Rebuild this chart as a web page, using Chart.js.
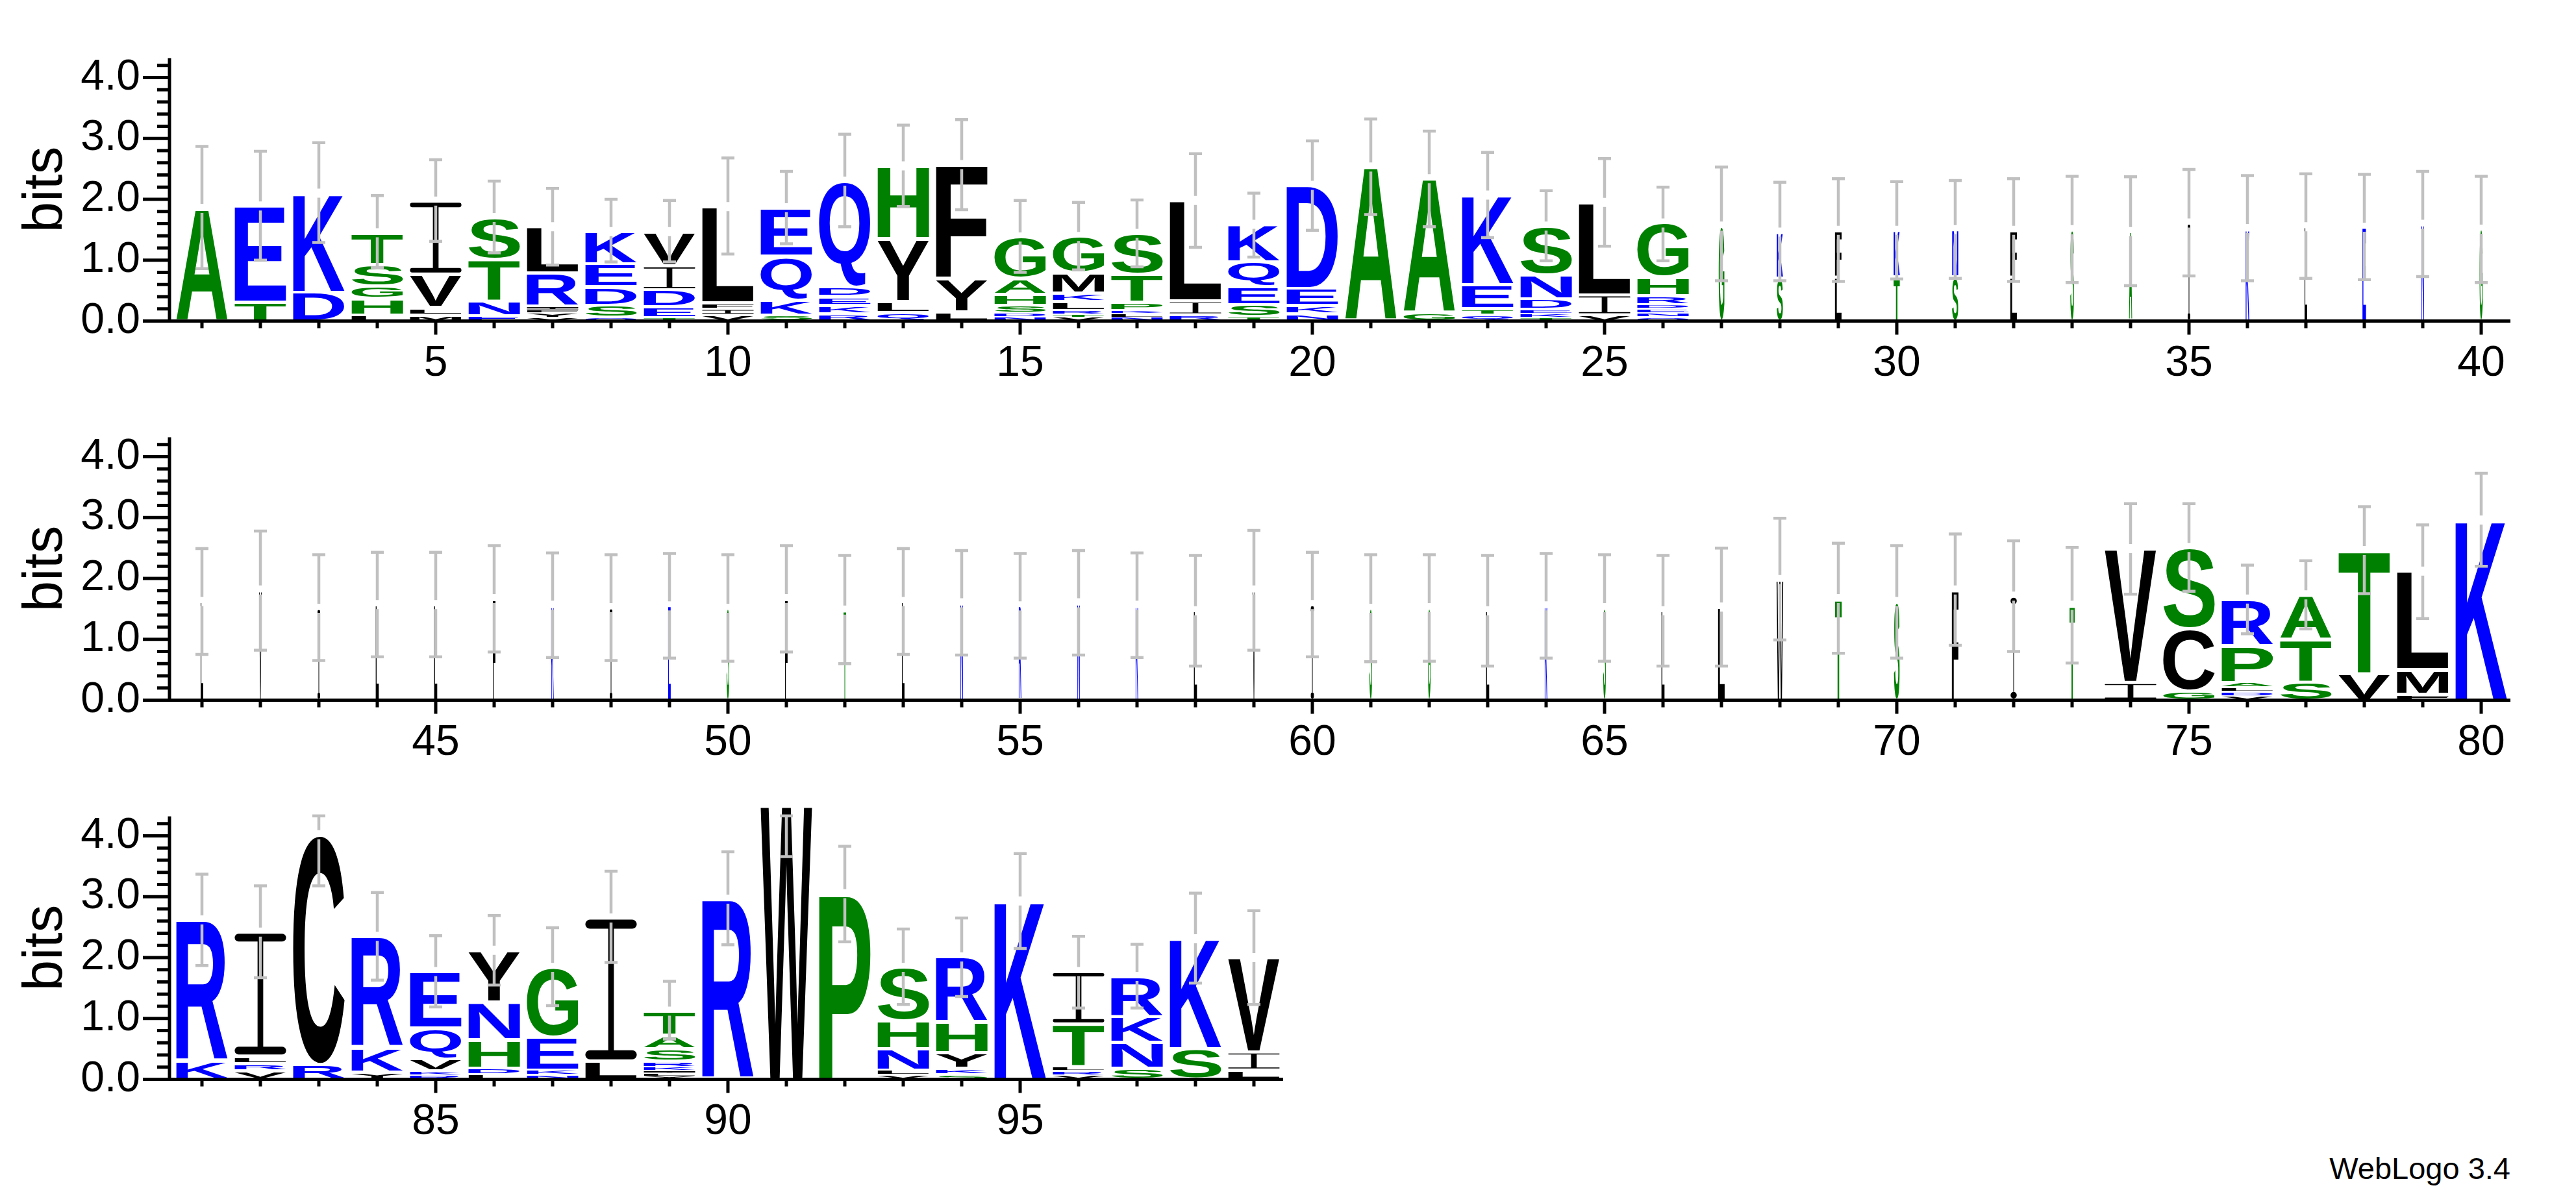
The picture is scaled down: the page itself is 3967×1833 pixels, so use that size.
<!DOCTYPE html>
<html>
<head>
<meta charset="utf-8">
<title>WebLogo</title>
<script src="https://cdn.jsdelivr.net/npm/chart.js@4.4.1/dist/chart.umd.min.js"></script>
<style>
  body { margin: 0; background: #fff; overflow: hidden; }
  #page { position: relative; width: 3967px; height: 1833px; background: #fff; }
  canvas { position: absolute; left: 0; }
  #credit { position: absolute; right: 101px; top: 1776px; font: 47px "Liberation Sans", Arial, sans-serif; line-height: 1; color: #000; }
</style>
</head>
<body>
<div id="page">
  <canvas id="row1" width="3967" height="584" style="top:0;width:3967px;height:584px"></canvas>
  <canvas id="row2" width="3967" height="584" style="top:584px;width:3967px;height:584px"></canvas>
  <canvas id="row3" width="3967" height="584" style="top:1168px;width:3967px;height:584px"></canvas>
  <div id="credit">WebLogo 3.4</div>
</div>
<script>
// residues at each position, listed bottom to top of the stack
const letters = [
  'A', 'TE', 'DK', 'LHGST', 'MLVI', 'ENTS', 'VYFIRL', 'QSDEK', 'TEDIV', 'VIFL',
  'SKQE', 'RKEDQ', 'QLYH', 'LYF', 'NDSHAG', 'VTRLKMG', 'NLKPTS', 'RIL', 'TSEQK', 'NKED',
  'A', 'GA', 'QTEK', 'TKEDNS', 'VIL', 'QNEDRHG', 'G', 'SK', 'LF', 'TK',
  'SN', 'LF', 'S', 'A', 'I', 'K', 'L', 'E', 'N', 'G',
  'L', 'V', 'I', 'L', 'L', 'F', 'K', 'I', 'E', 'S',
  'F', 'T', 'L', 'N', 'R', 'N', 'K', 'L', 'V', 'I',
  'S', 'G', 'L', 'K', 'S', 'L', 'L', 'W', 'T', 'S',
  'F', 'I', 'T', 'IV', 'GCS', 'VDLAPR', 'STA', 'VT', 'FML', 'K',
  'KR', 'VRLI', 'RC', 'YKR', 'RKVQE', 'LDHNY', 'NKEG', 'LI', 'YLIKRSAT', 'R',
  'W', 'P', 'VLNHS', 'SKYHR', 'K', 'VRLTI', 'SNKR', 'SK', 'LIV'
];

// bits for each residue, same order as letters
const heights = [
  [1.85], [0.31, 1.58], [0.47, 1.63], [0.1, 0.27, 0.2, 0.36, 0.52], [0.1, 0.12, 0.55, 1.2],
  [0.08, 0.25, 0.68, 0.69], [0.05, 0.08, 0.05, 0.06, 0.55, 0.76], [0.06, 0.2, 0.3, 0.38, 0.53],
  [0.05, 0.18, 0.28, 0.4, 0.56], [0.1, 0.1, 0.1, 1.58],
  [0.1, 0.25, 0.72, 0.79], [0.12, 0.14, 0.14, 0.16, 1.74], [0.14, 0.18, 1.03, 1.2], [0.15, 0.55, 1.87],
  [0.06, 0.07, 0.13, 0.18, 0.26, 0.68], [0.06, 0.05, 0.06, 0.15, 0.14, 0.33, 0.6],
  [0.06, 0.06, 0.05, 0.14, 0.46, 0.67], [0.1, 0.23, 1.65], [0.07, 0.2, 0.3, 0.4, 0.62], [0.12, 0.13, 0.28, 1.7],
  [2.53], [0.13, 2.21], [0.1, 0.1, 0.4, 1.47], [0.05, 0.07, 0.07, 0.17, 0.4, 0.8], [0.1, 0.33, 1.52],
  [0.06, 0.07, 0.07, 0.07, 0.15, 0.3, 0.89], [1.56], [0.7, 0.76], [0.72, 0.77], [0.72, 0.77],
  [0.72, 0.78], [0.72, 0.77], [1.5], [1.47], [1.61], [1.52], [1.55], [1.54], [1.59], [1.51],
  [1.62], [1.81], [1.51], [1.57], [1.57], [1.67], [1.56], [1.52], [1.55], [1.51],
  [1.67], [1.48], [1.62], [1.6], [1.55], [1.6], [1.56], [1.47], [1.81], [1.57],
  [1.51], [1.52], [1.47], [1.55], [1.52], [1.47], [1.53], [1.98], [1.67], [1.62],
  [1.81], [1.71], [1.56], [0.29, 2.2], [0.15, 1.03, 1.33], [0.07, 0.07, 0.07, 0.08, 0.6, 0.77],
  [0.3, 0.7, 0.73], [0.43, 2.03], [0.1, 0.4, 1.62], [2.96],
  [0.3, 2.32], [0.14, 0.12, 0.12, 2.04], [0.24, 3.78], [0.12, 0.4, 1.83], [0.07, 0.07, 0.2, 0.5, 0.93],
  [0.08, 0.1, 0.47, 0.62, 0.85], [0.07, 0.08, 0.54, 1.15], [0.3, 2.35],
  [0.05, 0.05, 0.04, 0.06, 0.1, 0.2, 0.22, 0.4], [2.96],
  [4.5], [3.05], [0.07, 0.08, 0.35, 0.46, 0.88], [0.08, 0.1, 0.26, 0.5, 1.07], [2.93],
  [0.07, 0.07, 0.07, 0.7, 0.86], [0.18, 0.43, 0.42, 0.66], [0.5, 1.81], [0.15, 0.3, 1.55]
];

// error bar ends, in bits
const errLow = [
  0.86, 1.0, 1.29, 0.88, 1.31, 1.12, 0.92, 0.97, 0.97, 1.1,
  1.27, 1.55, 1.88, 1.83, 0.8, 0.84, 0.89, 1.21, 1.05, 1.49,
  1.75, 1.55, 1.37, 0.99, 1.23, 0.99, 0.66, 0.66, 0.65, 0.69,
  0.7, 0.65, 0.63, 0.58, 0.74, 0.66, 0.7, 0.68, 0.73, 0.63,
  0.75, 0.82, 0.65, 0.71, 0.71, 0.79, 0.7, 0.65, 0.69, 0.64,
  0.79, 0.6, 0.75, 0.74, 0.69, 0.74, 0.7, 0.56, 0.82, 0.71,
  0.63, 0.64, 0.56, 0.69, 0.64, 0.56, 0.56, 0.99, 0.77, 0.69,
  0.9, 0.8, 0.61, 1.74, 1.79, 1.09, 1.17, 1.75, 1.34, 2.2,
  1.87, 1.67, 3.18, 1.63, 1.19, 1.55, 1.21, 1.92, 0.66, 2.21,
  3.66, 2.26, 1.23, 1.36, 2.15, 1.17, 1.17, 1.58, 1.23
];
const errHigh = [
  2.87, 2.79, 2.93, 2.06, 2.65, 2.3, 2.18, 2.0, 1.98, 2.68,
  2.46, 3.07, 3.22, 3.31, 1.98, 1.95, 1.99, 2.75, 2.1, 2.96,
  3.32, 3.12, 2.77, 2.14, 2.67, 2.2, 2.53, 2.28, 2.34, 2.29,
  2.31, 2.34, 2.38, 2.37, 2.49, 2.39, 2.42, 2.41, 2.46, 2.38,
  2.49, 2.78, 2.39, 2.43, 2.43, 2.54, 2.42, 2.39, 2.41, 2.39,
  2.54, 2.38, 2.49, 2.46, 2.41, 2.46, 2.42, 2.38, 2.79, 2.43,
  2.39, 2.39, 2.38, 2.41, 2.39, 2.38, 2.5, 2.99, 2.58, 2.54,
  2.73, 2.62, 2.51, 3.23, 3.23, 2.22, 2.29, 3.18, 2.88, 3.73,
  3.37, 3.18, 4.33, 3.07, 2.36, 2.69, 2.49, 3.42, 1.61, 3.74,
  4.33, 3.83, 2.47, 2.65, 3.71, 2.35, 2.22, 3.06, 2.77
];

// fraction of non-gap sequences, sets the stack width
const occupancy = [
  1, 1, 1, 1, 1, 1, 1, 1, 1, 1,
  1, 1, 1, 1, 1, 1, 1, 1, 1, 1,
  1, 1, 1, 1, 1, 1, 0.11, 0.12, 0.13, 0.12,
  0.12, 0.13, 0.07, 0.06, 0.05, 0.07, 0.05, 0.07, 0.05, 0.06,
  0.05, 0.05, 0.05, 0.06, 0.06, 0.05, 0.05, 0.05, 0.05, 0.05,
  0.05, 0.05, 0.05, 0.05, 0.05, 0.05, 0.05, 0.06, 0.05, 0.06,
  0.05, 0.05, 0.06, 0.05, 0.05, 0.06, 0.13, 0.13, 0.13, 0.11,
  0.13, 0.12, 0.1, 1, 1, 1, 1, 1, 1, 1,
  1, 1, 1, 1, 1, 1, 1, 1, 1, 1,
  1, 1, 1, 1, 1, 1, 1, 1, 1
];

const xTickLabels = ['5', '10', '15', '20', '25', '30', '35', '40', '45', '50',
  '55', '60', '65', '70', '75', '80', '85', '90', '95'];
const yTickValues = [0, 1, 2, 3, 4];
const yTickLabels = ['0.0', '1.0', '2.0', '3.0', '4.0'];
const maxBits = 4.32;

const rows = [[0, 40], [40, 80], [80, 99]];

const FONT = '"Liberation Sans", Arial, Helvetica, sans-serif';
const hydrophilic = 'RKDENQ';
const neutral = 'SGHTAP';
function colourOf(ch) {
  if (hydrophilic.includes(ch)) return '#0000ff';
  if (neutral.includes(ch)) return '#008000';
  return '#000000';
}

const glyphCache = {};
function glyphBox(ctx, ch) {
  if (!glyphCache[ch]) {
    ctx.save();
    ctx.font = 'bold 200px ' + FONT;
    const m = ctx.measureText(ch);
    glyphCache[ch] = {
      l: m.actualBoundingBoxLeft, r: m.actualBoundingBoxRight,
      a: m.actualBoundingBoxAscent, d: m.actualBoundingBoxDescent
    };
    ctx.restore();
  }
  return glyphCache[ch];
}

// stretch one letter so its ink fills the box
function drawGlyph(ctx, ch, cx, top, bottom, w, colour) {
  const gap = Math.min(2.5, (bottom - top) * 0.2);
  const t = top + gap;
  const h = bottom - top - 2 * gap;
  if (h <= 0.3 || w <= 0) return;
  ctx.save();
  ctx.fillStyle = colour;
  if (ch === 'I') {
    // the logo font draws I with bars top and bottom
    const bar = Math.max(1, h * 0.065);
    const stem = Math.max(1, w * 0.11);
    const x0 = cx - w / 2;
    ctx.beginPath();
    ctx.roundRect(x0, t, w, bar, bar / 2);
    ctx.roundRect(x0, t + h - bar, w, bar, bar / 2);
    ctx.rect(cx - stem / 2, t, stem, h);
    ctx.fill();
    ctx.restore();
    return;
  }
  const g = glyphBox(ctx, ch);
  ctx.translate(cx - w / 2, t);
  ctx.scale(w / (g.l + g.r), h / (g.a + g.d));
  ctx.font = 'bold 200px ' + FONT;
  ctx.textAlign = 'left';
  ctx.textBaseline = 'alphabetic';
  ctx.fillText(ch, g.l, g.a);
  ctx.restore();
}

const logoPlugin = {
  id: 'logo',
  afterDatasetsDraw(chart, args, opts) {
    const { ctx } = chart;
    const { x, y } = chart.scales;
    const from = opts.from;

    chart.data.datasets.forEach((ds, k) => {
      chart.getDatasetMeta(k).data.forEach((bar, j) => {
        const ch = ds.glyphs[j];
        if (!ch || ds.data[j] == null) return;
        drawGlyph(ctx, ch, bar.x, bar.y, bar.base, bar.width * occupancy[from + j], colourOf(ch));
      });
    });

    // error bars, broken around the top of the stack
    ctx.save();
    ctx.strokeStyle = '#c0c0c0';
    ctx.lineWidth = 4.5;
    ctx.beginPath();
    chart.data.labels.forEach((lab, j) => {
      const i = from + j;
      const cx = x.getPixelForValue(j);
      const total = heights[i].reduce((a, b) => a + b, 0);
      const yt = y.getPixelForValue(total);
      const yl = y.getPixelForValue(errLow[i]);
      const yh = y.getPixelForValue(errHigh[i]);
      const upEnd = Math.min(yt - 7, yl);
      if (upEnd > yh) { ctx.moveTo(cx, yh); ctx.lineTo(cx, upEnd); }
      const lowStart = Math.max(yt + 7, yh);
      if (yl > lowStart) { ctx.moveTo(cx, lowStart); ctx.lineTo(cx, yl); }
      ctx.moveTo(cx - 10, yh); ctx.lineTo(cx + 10, yh);
      ctx.moveTo(cx - 10, yl); ctx.lineTo(cx + 10, yl);
    });
    ctx.stroke();
    ctx.restore();
  },
  afterDraw(chart) {
    const { ctx, chartArea } = chart;
    const { x, y } = chart.scales;
    const y0 = y.getPixelForValue(0);
    const yTop = y.getPixelForValue(maxBits);
    const ax = chartArea.left - 5;
    ctx.save();
    ctx.strokeStyle = '#000';
    ctx.lineWidth = 5;
    ctx.beginPath();
    ctx.moveTo(ax, yTop); ctx.lineTo(ax, y0 + 2.5);
    ctx.moveTo(ax - 2.5, y0); ctx.lineTo(chartArea.right, y0);
    for (let k = 0; k <= 21; k++) {
      const py = y.getPixelForValue(k / 5);
      const len = k % 5 === 0 ? 41 : 19;
      ctx.moveTo(ax - len, py); ctx.lineTo(ax, py);
    }
    chart.data.labels.forEach((lab, j) => {
      const px = x.getPixelForValue(j);
      const len = xTickLabels.includes(lab) ? 21 : 11;
      ctx.moveTo(px, y0); ctx.lineTo(px, y0 + len);
    });
    ctx.stroke();
    ctx.restore();
  }
};

const cellWidth = 90;
const plotLeft = 266;

rows.forEach(([from, to], r) => {
  const canvas = document.getElementById('row' + (r + 1));
  const rowLetters = letters.slice(from, to);
  const rowHeights = heights.slice(from, to);
  const depth = Math.max(...rowHeights.map(h => h.length));
  const datasets = [];
  for (let k = 0; k < depth; k++) {
    datasets.push({
      data: rowHeights.map(h => (h[k] === undefined ? null : h[k])),
      glyphs: rowLetters.map(s => s[k] || null),
      backgroundColor: 'rgba(0,0,0,0)',
      borderWidth: 0,
      categoryPercentage: 1,
      barPercentage: 0.88
    });
  }

  new Chart(canvas, {
    type: 'bar',
    data: {
      labels: rowLetters.map((_, i) => String(from + i + 1)),
      datasets
    },
    options: {
      responsive: false,
      animation: false,
      events: [],
      layout: {
        padding: { top: 50, right: canvas.width - plotLeft - rowLetters.length * cellWidth, bottom: 0, left: 0 }
      },
      plugins: {
        legend: { display: false },
        tooltip: { enabled: false },
        logo: { from }
      },
      scales: {
        x: {
          stacked: true,
          offset: true,
          grid: { display: false, drawTicks: false },
          border: { display: false },
          ticks: {
            autoSkip: false, maxRotation: 0, minRotation: 0,
            padding: 27, color: '#000',
            font: { family: FONT, size: 66 },
            callback(v) {
              const lab = this.getLabelForValue(v);
              return xTickLabels.includes(lab) ? lab : '';
            }
          },
          afterFit(s) { s.height = 85; }
        },
        y: {
          stacked: true,
          min: 0,
          max: maxBits,
          grid: { display: false, drawTicks: false },
          border: { display: false },
          ticks: {
            stepSize: 1, includeBounds: false,
            padding: 50, color: '#000',
            font: { family: FONT, size: 66 },
            callback(v) {
              const i = yTickValues.indexOf(v);
              return i < 0 ? '' : yTickLabels[i];
            }
          },
          title: {
            display: true, text: 'bits', color: '#000',
            font: { family: FONT, size: 85 },
            padding: { top: 21, bottom: 0 }
          },
          afterFit(s) { s.width = plotLeft; }
        }
      }
    },
    plugins: [logoPlugin]
  });
});
</script>
</body>
</html>
